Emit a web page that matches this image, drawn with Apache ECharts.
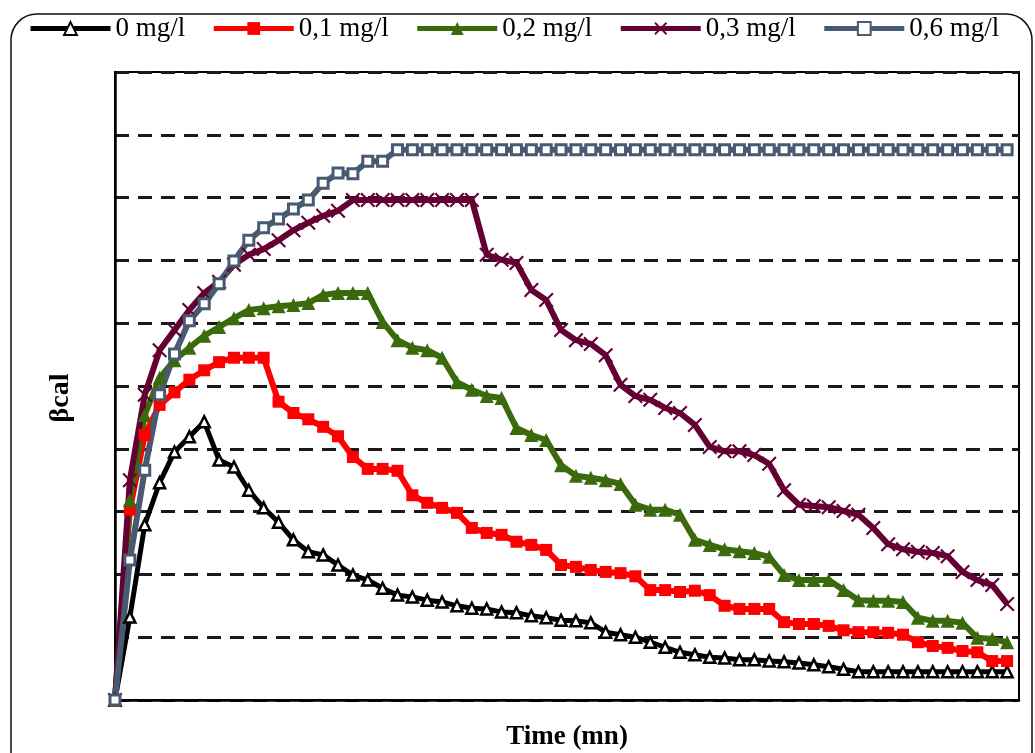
<!DOCTYPE html>
<html>
<head>
<meta charset="utf-8">
<script src="https://cdn.jsdelivr.net/npm/echarts@6/dist/echarts.min.js"></script>
<style>
  html, body { margin: 0; padding: 0; background: #fff; }
  #chart { width: 1035px; height: 753px; }
</style>
</head>
<body>
<div id="chart"></div>
<script>
// time in minutes, one reading per minute
var times = [0, 1, 2, 3, 4, 5, 6, 7, 8, 9, 10, 11, 12, 13, 14, 15, 16, 17, 18, 19, 20,
  21, 22, 23, 24, 25, 26, 27, 28, 29, 30, 31, 32, 33, 34, 35, 36, 37, 38, 39, 40,
  41, 42, 43, 44, 45, 46, 47, 48, 49, 50, 51, 52, 53, 54, 55, 56, 57, 58, 59, 60]

var names = ['0 mg/l', '0,1 mg/l', '0,2 mg/l', '0,3 mg/l', '0,6 mg/l']

var beta0 = [0, 13.2, 27.9, 34.6, 39.5, 41.9, 44.3, 38.2, 37.1, 33.4, 30.6,
  28.3, 25.5, 23.6, 23.1, 21.5, 19.9, 19.1, 17.8, 16.7, 16.4,
  15.9, 15.6, 15.0, 14.6, 14.5, 14.0, 13.9, 13.4, 13.1, 12.7,
  12.6, 12.3, 10.8, 10.4, 10.0, 9.2, 8.4, 7.6, 7.2, 6.8,
  6.7, 6.4, 6.4, 6.2, 6.1, 5.9, 5.6, 5.3, 4.9, 4.5,
  4.5, 4.5, 4.5, 4.5, 4.5, 4.5, 4.5, 4.5, 4.5, 4.5]

var beta01 = [0, 30.3, 42.2, 47.0, 49.0, 51.0, 52.5, 53.8, 54.5, 54.5, 54.5,
  47.5, 45.7, 44.7, 43.5, 42.0, 38.7, 36.8, 36.8, 36.5, 32.6,
  31.4, 30.6, 29.8, 27.4, 26.6, 26.3, 25.2, 24.7, 23.9, 21.5,
  21.2, 20.7, 20.4, 20.2, 19.7, 17.5, 17.5, 17.2, 17.4, 16.7,
  15.0, 14.5, 14.5, 14.5, 12.4, 12.1, 12.1, 11.8, 11.1, 10.8,
  10.8, 10.7, 10.4, 9.2, 8.6, 8.3, 7.8, 7.6, 6.2, 6.2]

var beta02 = [0, 31.8, 45.4, 51.3, 54.1, 56.1, 58.0, 59.4, 60.8, 62.1, 62.4,
  62.7, 62.9, 63.2, 64.5, 64.8, 64.8, 64.8, 60.2, 57.3, 56.1,
  55.7, 54.5, 50.6, 49.4, 48.4, 48.1, 43.3, 42.2, 41.4, 37.4,
  35.7, 35.4, 35.0, 34.4, 31.1, 30.3, 30.3, 29.5, 25.5, 24.7,
  24.0, 23.7, 23.4, 22.8, 19.9, 19.1, 19.1, 19.1, 17.5, 15.9,
  15.8, 15.8, 15.6, 13.1, 12.6, 12.6, 12.3, 9.9, 9.7, 9.2]

var beta03 = [0, 35.0, 48.6, 55.7, 58.9, 62.1, 64.8, 66.6, 69.3, 70.9, 71.8,
  73.2, 74.8, 76.0, 77.1, 77.9, 79.6, 79.6, 79.6, 79.6, 79.6,
  79.6, 79.6, 79.6, 79.6, 70.9, 70.1, 69.6, 65.3, 63.7, 58.9,
  57.3, 56.7, 54.9, 50.2, 48.4, 47.8, 46.5, 45.7, 43.8, 40.3,
  39.6, 39.6, 39.0, 37.6, 33.4, 31.1, 30.9, 30.7, 30.1, 29.5,
  27.4, 24.8, 24.0, 23.6, 23.4, 22.9, 20.4, 19.1, 18.3, 15.3]

var beta06 = [0, 22.3, 36.6, 48.6, 55.1, 60.4, 63.1, 66.3, 69.9, 73.2, 75.2,
  76.6, 78.2, 79.6, 82.3, 83.9, 83.8, 85.8, 85.8, 87.6, 87.6,
  87.6, 87.6, 87.6, 87.6, 87.6, 87.6, 87.6, 87.6, 87.6, 87.6,
  87.6, 87.6, 87.6, 87.6, 87.6, 87.6, 87.6, 87.6, 87.6, 87.6,
  87.6, 87.6, 87.6, 87.6, 87.6, 87.6, 87.6, 87.6, 87.6, 87.6,
  87.6, 87.6, 87.6, 87.6, 87.6, 87.6, 87.6, 87.6, 87.6, 87.6]

function pairs (vals) {
  return times.map(function (t, i) { return [t, vals[i]] })
}

var serif = 'Liberation Serif'
// cross marker for 0,3 mg/l
var cross = 'path://M1,0L5,4L9,0L10,1L6,5L10,9L9,10L5,6L1,10L0,9L4,5L0,1Z'

var chart = echarts.init(document.getElementById('chart'))
chart.setOption({
  animation: false,
  backgroundColor: '#fff',
  graphic: [{
    type: 'rect',
    shape: { x: 11, y: 14, width: 1021, height: 770, r: 26 },
    style: { fill: 'none', stroke: '#111', lineWidth: 1.5 },
    silent: true,
    z: -1
  }],
  legend: {
    left: 28,
    top: 15,
    itemWidth: 80,
    itemHeight: 16,
    itemGap: 26,
    padding: 0,
    lineStyle: { width: 5 },
    textStyle: { fontFamily: serif, fontSize: 27, color: '#000' },
    data: names
  },
  grid: {
    left: 115,
    top: 72,
    right: 16,
    bottom: 53,
    outerBoundsMode: 'none',
    containLabel: false,
    show: true,
    borderColor: '#000',
    borderWidth: 2,
    backgroundColor: 'transparent'
  },
  xAxis: {
    type: 'value',
    min: 0,
    max: 60.8,
    name: 'Time (mn)',
    nameLocation: 'middle',
    nameGap: 24,
    nameTextStyle: { fontFamily: serif, fontSize: 27, fontWeight: 'bold', color: '#000' },
    axisLine: { show: true, lineStyle: { color: '#000', width: 2.5 } },
    axisTick: { show: false },
    axisLabel: { show: false },
    splitLine: { show: false }
  },
  yAxis: {
    type: 'value',
    min: 0,
    max: 100,
    interval: 10,
    name: 'βcal',
    nameLocation: 'middle',
    nameGap: 40,
    nameRotate: 90,
    nameTextStyle: { fontFamily: serif, fontSize: 28, fontWeight: 'bold', color: '#000', padding: [0, 24, 0, 0] },
    axisLine: { show: true, lineStyle: { color: '#000', width: 2.5 } },
    axisTick: { show: false },
    axisLabel: { show: false },
    splitLine: { show: true, lineStyle: { color: '#1a1a1a', width: 3, type: [14, 9] } }
  },
  series: [
    {
      name: names[0],
      type: 'line',
      data: pairs(beta0),
      symbol: 'triangle',
      symbolSize: 11,
      lineStyle: { color: '#000', width: 5 },
      itemStyle: { color: '#fff', borderColor: '#000', borderWidth: 2.5 }
    },
    {
      name: names[1],
      type: 'line',
      data: pairs(beta01),
      symbol: 'rect',
      symbolSize: 12,
      lineStyle: { color: '#ff0000', width: 6 },
      itemStyle: { color: '#ff0000' }
    },
    {
      name: names[2],
      type: 'line',
      data: pairs(beta02),
      symbol: 'triangle',
      symbolSize: 14,
      lineStyle: { color: '#3b6a0c', width: 6 },
      itemStyle: { color: '#3b6a0c' }
    },
    {
      name: names[3],
      type: 'line',
      data: pairs(beta03),
      symbol: cross,
      symbolSize: 15,
      lineStyle: { color: '#650033', width: 6 },
      itemStyle: { color: '#650033' }
    },
    {
      name: names[4],
      type: 'line',
      data: pairs(beta06),
      symbol: 'rect',
      symbolSize: 10,
      lineStyle: { color: '#475a72', width: 6 },
      itemStyle: { color: '#fff', borderColor: '#475a72', borderWidth: 3 }
    }
  ]
})
</script>
</body>
</html>
